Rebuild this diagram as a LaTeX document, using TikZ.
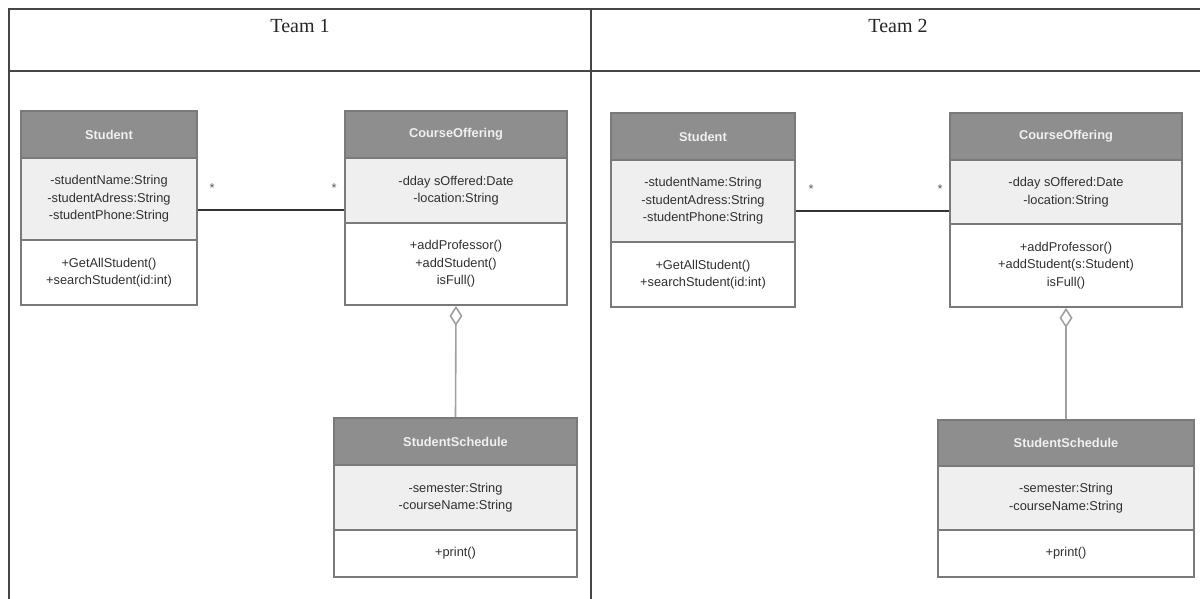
\documentclass[tikz,border=0pt]{standalone}
\usepackage{fontspec}
\setmainfont{Liberation Serif}
\newfontfamily\umlfont{Liberation Sans}
\usetikzlibrary{fit,arrows.meta}

\definecolor{gridline}{HTML}{454545}
\definecolor{hdrfill}{HTML}{8E8E8E}
\definecolor{attrfill}{HTML}{EFEFEF}
\definecolor{boxline}{HTML}{7A7A7A}
\definecolor{umltext}{HTML}{303030}
\definecolor{aggline}{HTML}{A0A0A0}

\tikzset{
  grid/.style={draw=gridline, line width=1pt},
  part/.style={draw=boxline, line width=0.9pt, inner sep=0pt},
  hdr/.style={part, fill=hdrfill},
  attrs/.style={part, fill=attrfill},
  meths/.style={part, fill=white},
  txt/.style={inner sep=0pt, align=center,
    font=\umlfont\fontsize{6.4}{8.75}\selectfont, text=umltext},
  hdrtxt/.style={txt, text=white!94!black,
    font=\umlfont\bfseries\fontsize{6.4}{8.75}\selectfont},
  title/.style={font=\fontsize{10}{12}\selectfont, text=black!85},
  mult/.style={font=\umlfont\fontsize{6.4}{8}\selectfont, text=umltext!80, inner sep=0pt},
  assoc/.style={draw=black!80, line width=0.6pt},
  agg/.style={draw=aggline, line width=0.8pt,
    {Diamond[open, length=10pt, width=6.5pt, line width=0.8pt]}-},
}

\begin{document}
\begin{tikzpicture}[x=0.5pt, y=-0.5pt]
\useasboundingbox (0,0) rectangle (1200,599);

% table frame
\coordinate (tl) at (8.5,9.5);
\coordinate (tr) at (1200,9.5);
\coordinate (hl) at (8.5,71);
\coordinate (hr) at (1200,71);
\coordinate (bl) at (8.5,599);
\coordinate (mt) at (591,9.5);
\coordinate (mb) at (591,599);
\draw[grid] (tr) -- (tl) -- (bl);
\draw[grid] (hl) -- (hr);
\draw[grid] (mt) -- (mb);

\node[title] (t1) at (300,26) {Team 1};
\node[title] (t2) at (898,26) {Team 2};

% ---------------- Team 1 ----------------
\node[hdr,   fit={(21,111)(197,158)}] (s1h) {};
\node[attrs, fit={(21,158)(197,240)}] (s1a) {};
\node[meths, fit={(21,240)(197,305)}] (s1m) {};
\node[hdrtxt] (s1ht) at (s1h.center) {Student};
\node[txt] (s1at) at (s1a.center) {-studentName:String\\-studentAdress:String\\-studentPhone:String};
\node[txt] (s1mt) at (s1m.center) {+GetAllStudent()\\+searchStudent(id:int)};

\node[hdr,   fit={(345,111)(567,158)}] (c1h) {};
\node[attrs, fit={(345,158)(567,223)}] (c1a) {};
\node[meths, fit={(345,223)(567,305)}] (c1m) {};
\node[hdrtxt] (c1ht) at (c1h.center) {CourseOffering};
\node[txt] (c1at) at (c1a.center) {-dday sOffered:Date\\-location:String};
\node[txt] (c1mt) at (c1m.center) {+addProfessor()\\+addStudent()\\isFull()};

\node[hdr,   fit={(334,418)(577,465)}] (ss1h) {};
\node[attrs, fit={(334,465)(577,530)}] (ss1a) {};
\node[meths, fit={(334,530)(577,577)}] (ss1m) {};
\node[hdrtxt] (ss1ht) at (ss1h.center) {StudentSchedule};
\node[txt] (ss1at) at (ss1a.center) {-semester:String\\-courseName:String};
\node[txt] (ss1mt) at (ss1m.center) {+print()};

\draw[assoc] (s1a.east |- 0,210) -- (c1a.west |- 0,210);
\node[mult] (m1a) at (212,188) {*};
\node[mult] (m1b) at (334,188) {*};
\draw[agg] (c1m.south) -- (ss1h.north);

% ---------------- Team 2 ----------------
\node[hdr,   fit={(611,113)(795,160)}] (s2h) {};
\node[attrs, fit={(611,160)(795,242)}] (s2a) {};
\node[meths, fit={(611,242)(795,307)}] (s2m) {};
\node[hdrtxt] (s2ht) at (s2h.center) {Student};
\node[txt] (s2at) at (s2a.center) {-studentName:String\\-studentAdress:String\\-studentPhone:String};
\node[txt] (s2mt) at (s2m.center) {+GetAllStudent()\\+searchStudent(id:int)};

\node[hdr,   fit={(950,113)(1182,160)}] (c2h) {};
\node[attrs, fit={(950,160)(1182,224)}] (c2a) {};
\node[meths, fit={(950,224)(1182,307)}] (c2m) {};
\node[hdrtxt] (c2ht) at (c2h.center) {CourseOffering};
\node[txt] (c2at) at (c2a.center) {-dday sOffered:Date\\-location:String};
\node[txt] (c2mt) at (c2m.center) {+addProfessor()\\+addStudent(s:Student)\\isFull()};

\node[hdr,   fit={(938,420)(1194,466)}] (ss2h) {};
\node[attrs, fit={(938,466)(1194,530)}] (ss2a) {};
\node[meths, fit={(938,530)(1194,577)}] (ss2m) {};
\node[hdrtxt] (ss2ht) at (ss2h.center) {StudentSchedule};
\node[txt] (ss2at) at (ss2a.center) {-semester:String\\-courseName:String};
\node[txt] (ss2mt) at (ss2m.center) {+print()};

\draw[assoc] (s2a.east |- 0,211) -- (c2a.west |- 0,211);
\node[mult] (m2a) at (811,189) {*};
\node[mult] (m2b) at (940,189) {*};
\draw[agg] (c2m.south) -- (ss2h.north);
\end{tikzpicture}
\end{document}
